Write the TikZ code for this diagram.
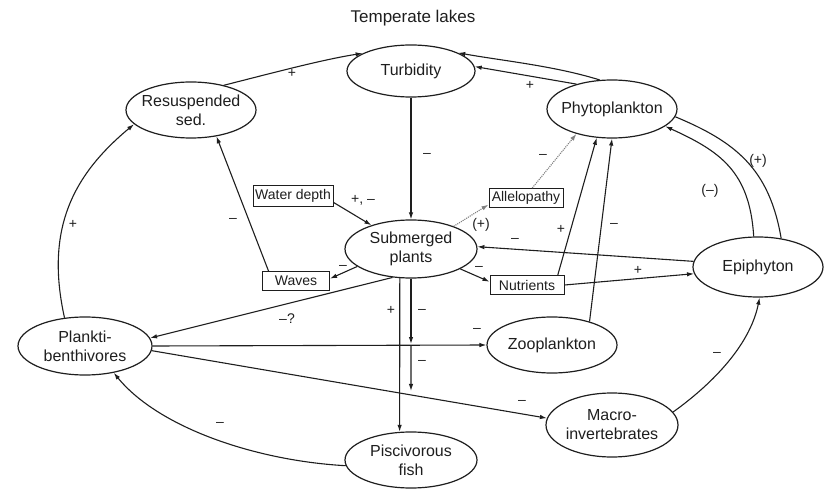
\documentclass[tikz,border=0pt]{standalone}
\usepackage{fontspec}
\setmainfont{Liberation Sans}
\usetikzlibrary{arrows.meta,shapes.geometric,intersections,calc}
\definecolor{ink}{HTML}{1E1E1E}
\begin{document}
\begin{tikzpicture}[x=1pt,y=-1pt,
  ell/.style={draw=ink, ellipse, line width=1.2pt, inner sep=0pt},
  elltext/.style={align=center, text=ink, inner sep=0pt, font=\fontsize{16}{19}\selectfont},
  box/.style={draw=ink, rectangle, line width=1pt, inner sep=0pt, text=ink,
    font=\fontsize{14}{16}\selectfont},
  link/.style={draw=ink, line width=1.1pt, -{Latex[length=7pt,width=4.5pt]}},
  plain/.style={draw=ink, line width=1.1pt},
  dotlink/.style={draw=gray, densely dotted, line width=1.1pt, -{Latex[length=7pt,width=4.5pt]}},
  sgn/.style={text=ink, inner sep=0pt, font=\fontsize{14}{16}\selectfont},
]
\useasboundingbox (0,0) rectangle (825,489);

% title
\node[text=ink, font=\fontsize{17}{20}\selectfont] (title) at (413,18) {Temperate lakes};

% ellipses
\node[ell, minimum width=128pt, minimum height=52pt,
  label={[elltext]center:Turbidity}] (tur) at (411,71) {};
\node[ell, minimum width=130pt, minimum height=56pt,
  label={[elltext]center:{Resuspended\\sed.}}] (res) at (191,110) {};
\node[ell, minimum width=130pt, minimum height=58pt,
  label={[elltext]center:Phytoplankton}] (phy) at (612,109) {};
\node[ell, minimum width=132pt, minimum height=58pt,
  label={[elltext]center:{Submerged\\plants}}] (sub) at (411,249) {};
\node[ell, minimum width=130pt, minimum height=60pt,
  label={[elltext]center:Epiphyton}] (epi) at (758,267) {};
\node[ell, minimum width=134pt, minimum height=58pt,
  label={[elltext]center:{Plankti-\\benthivores}}] (pb) at (85,346) {};
\node[ell, minimum width=130pt, minimum height=56pt,
  label={[elltext]center:Zooplankton}] (zoo) at (552,345) {};
\node[ell, minimum width=132pt, minimum height=64pt,
  label={[elltext]center:{Macro-\\invertebrates}}] (mac) at (612,425) {};
\node[ell, minimum width=132pt, minimum height=56pt,
  label={[elltext]center:{Piscivorous\\fish}}] (pis) at (411,460) {};

% boxes
\node[box, minimum width=80pt, minimum height=21pt] (wd) at (293,196) {Water depth};
\node[box, minimum width=74pt, minimum height=19pt] (all) at (526,198) {Allelopathy};
\node[box, minimum width=67pt, minimum height=19pt] (wav) at (296,281) {Waves};
\node[box, minimum width=74pt, minimum height=19pt] (nut) at (527,285) {Nutrients};

% upper loop
\draw[link] (res.37) .. controls +(40,-10) and +(-40,6) .. (tur.160);
\draw[link] (tur.south) -- (sub.north);
\draw[link] (phy.113) .. controls +(-45,-14) and +(45,8) .. (tur.21);
\draw[link] (phy.145) -- (tur.4);
\draw[link] (epi.98) .. controls +(-4,-65) and +(55,25) .. (phy.-18);
\draw[plain] (epi.51) .. controls +(-12,-70) and +(60,25) .. (phy.-7);

% around the submerged plants
\draw[link] (wd.-9) -- (sub.149);
\draw[dotlink] (sub.28) -- (all.190);
\draw[dotlink] (all.58) -- (phy.215);
\draw[link] (nut.18) -- (phy.242);
\draw[link] (zoo.32) -- (phy.270);
\draw[link] (epi.175) -- (sub.2);
\draw[link] (nut.east) -- (epi.186);
\draw[link] (sub.-22) -- (nut.175);
\draw[link] (sub.198) -- (wav.4);
\draw[link] (wav.160) -- (res.-46);

% fish and invertebrates
\draw[link] (pb.126) .. controls +(-20,-90) and +(-60,50) .. (res.194);
\draw[link] (sub.237) -- (pb.7);
\draw[link] (pb.east) -- (zoo.west);
\draw[link, name path=pbmac] (pb.-4) -- (mac.174);
\draw[link] (sub.249) -- (pis.112);
\path[name path=vert] (sub.south) -- ++(0,200);
\path[name intersections={of=pbmac and vert, by=m2}];
\coordinate (m1) at (sub.south |- pb.east);
\draw[link, shorten >=2pt] (sub.south) -- (m1);
\draw[link, shorten >=4pt] (m1) -- (m2);
\draw[link] (pis.185) .. controls +(-90,-5) and +(45,55) .. (pb.-43);
\draw[link] (mac.12) .. controls +(35,-25) and +(-10,50) .. (epi.-87);

% signs
\node[sgn] (s1) at (292,73) {+};
\node[sgn] (s2) at (427,155) {–};
\node[sgn] (s3) at (530,85) {+};
\node[sgn] (s4) at (710,191) {(–)};
\node[sgn] (s5) at (758,161) {(+)};
\node[sgn] (s6) at (363,200) {+, –};
\node[sgn] (s7) at (481,225) {(+)};
\node[sgn] (s8) at (543,156) {–};
\node[sgn] (s9) at (561,229) {+};
\node[sgn] (s10) at (614,225) {–};
\node[sgn] (s11) at (515,240) {–};
\node[sgn] (s12) at (638,270) {+};
\node[sgn] (s13) at (479,268) {–};
\node[sgn] (s14) at (343,267) {–};
\node[sgn] (s15) at (233,220) {–};
\node[sgn] (s16) at (73,224) {+};
\node[sgn] (s17) at (287,319) {–?};
\node[sgn] (s18) at (477,330) {–};
\node[sgn] (s19) at (522,402) {–};
\node[sgn] (s20) at (391,310) {+};
\node[sgn] (s21) at (422,311) {–};
\node[sgn] (s22) at (422,362) {–};
\node[sgn] (s23) at (220,424) {–};
\node[sgn] (s24) at (717,354) {–};
\end{tikzpicture}
\end{document}
